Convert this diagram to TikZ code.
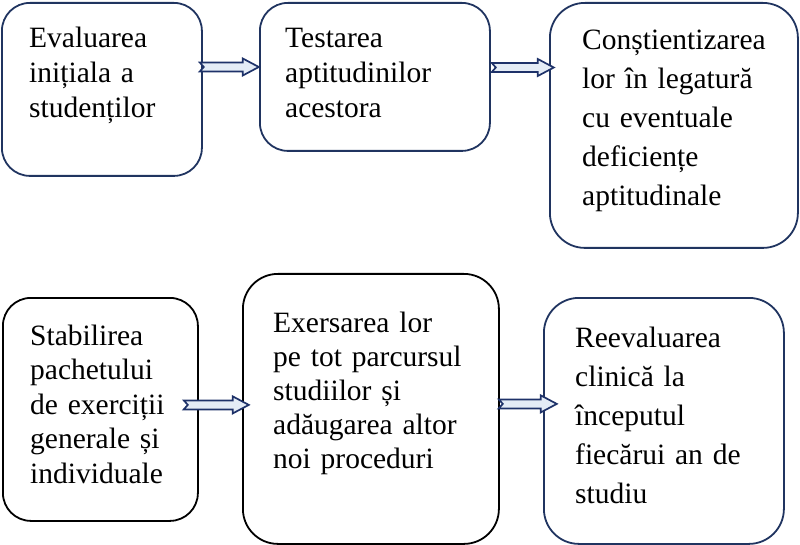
\documentclass[tikz,border=0pt]{standalone}
\usepackage{fontspec}
\setmainfont{Liberation Serif}
\usetikzlibrary{calc}
\definecolor{navy}{RGB}{32,52,96}
\definecolor{arrowline}{RGB}{30,50,105}
\definecolor{arrowfill}{RGB}{228,236,246}
\begin{document}
\begin{tikzpicture}[x=1pt,y=-1pt,
  boxnavy/.style={draw=navy, line width=1.8pt, rounded corners=28pt, inner sep=0pt, anchor=north west},
  boxblack/.style={draw=black, line width=1.8pt, rounded corners=28pt, inner sep=0pt, anchor=north west},
  txt/.style={anchor=base west, inner sep=0pt, align=left, text width=240pt, font=\fontsize{29.5}{35}\selectfont},
  txtwide/.style={txt, font=\fontsize{29.5}{39}\selectfont},
  arrowstyle/.style={draw=arrowline, fill=arrowfill, line width=1.7pt, line join=miter},
  pics/barrow/.style={code={
    \draw[arrowstyle] (0,-4.5) -- ({#1-16},-4.5) -- ({#1-16},-8.5) -- (#1,0)
      -- ({#1-16},8.5) -- ({#1-16},4.5) -- (0,4.5) -- (4,0) -- cycle;}}
]
\useasboundingbox (0,0) rectangle (800,545);

% boxes
\node[boxnavy, minimum width=200pt, minimum height=173pt] (b1) at (1,2) {};
\node[boxnavy, minimum width=230pt, minimum height=148pt] (b2) at (259,2) {};
\node[boxnavy, minimum width=248pt, minimum height=245pt, rounded corners=35pt] (b3) at (549,2) {};
\node[boxblack, minimum width=195pt, minimum height=223pt] (b4) at (2,297) {};
\node[boxblack, minimum width=256pt, minimum height=270pt, rounded corners=35pt] (b5) at (242,273) {};
\node[boxnavy, minimum width=240pt, minimum height=246pt, rounded corners=35pt] (b6) at (543,297) {};

% texts
\node[txt] (t1) at (29,48) {Evaluarea\\inițiala a\\studenților};
\node[txt] (t2) at (285,48) {Testarea\\aptitudinilor\\acestora};
\node[txtwide] (t3) at (582,50) {Conștientizarea\\lor în legatură\\cu eventuale\\deficiențe\\aptitudinale};
\node[txt, font=\fontsize{29.5}{34.5}\selectfont] (t4) at (30,345) {Stabilirea\\pachetului\\de exerciții\\generale și\\individuale};
\node[txt, font=\fontsize{29.5}{34}\selectfont] (t5) at (273,332) {Exersarea lor\\pe tot parcursul\\studiilor și\\adăugarea altor\\noi proceduri};
\node[txtwide] (t6) at (575,347) {Reevaluarea\\clinică la\\începutul\\fiecărui an de\\studiu};

% arrows
\coordinate (a1) at ($(b1.north east)+(-3,65)$);
\coordinate (a2) at ($(b2.north east)+(1,65.5)$);
\coordinate (a3) at ($(b4.east)+(-15,-4.5)$);
\coordinate (a4) at ($(b5.east)+(-1,-5)$);
\pic at (a1) {barrow=59};
\pic at (a2) {barrow=62};
\pic at (a3) {barrow=65};
\pic at (a4) {barrow=58};
\end{tikzpicture}
\end{document}
